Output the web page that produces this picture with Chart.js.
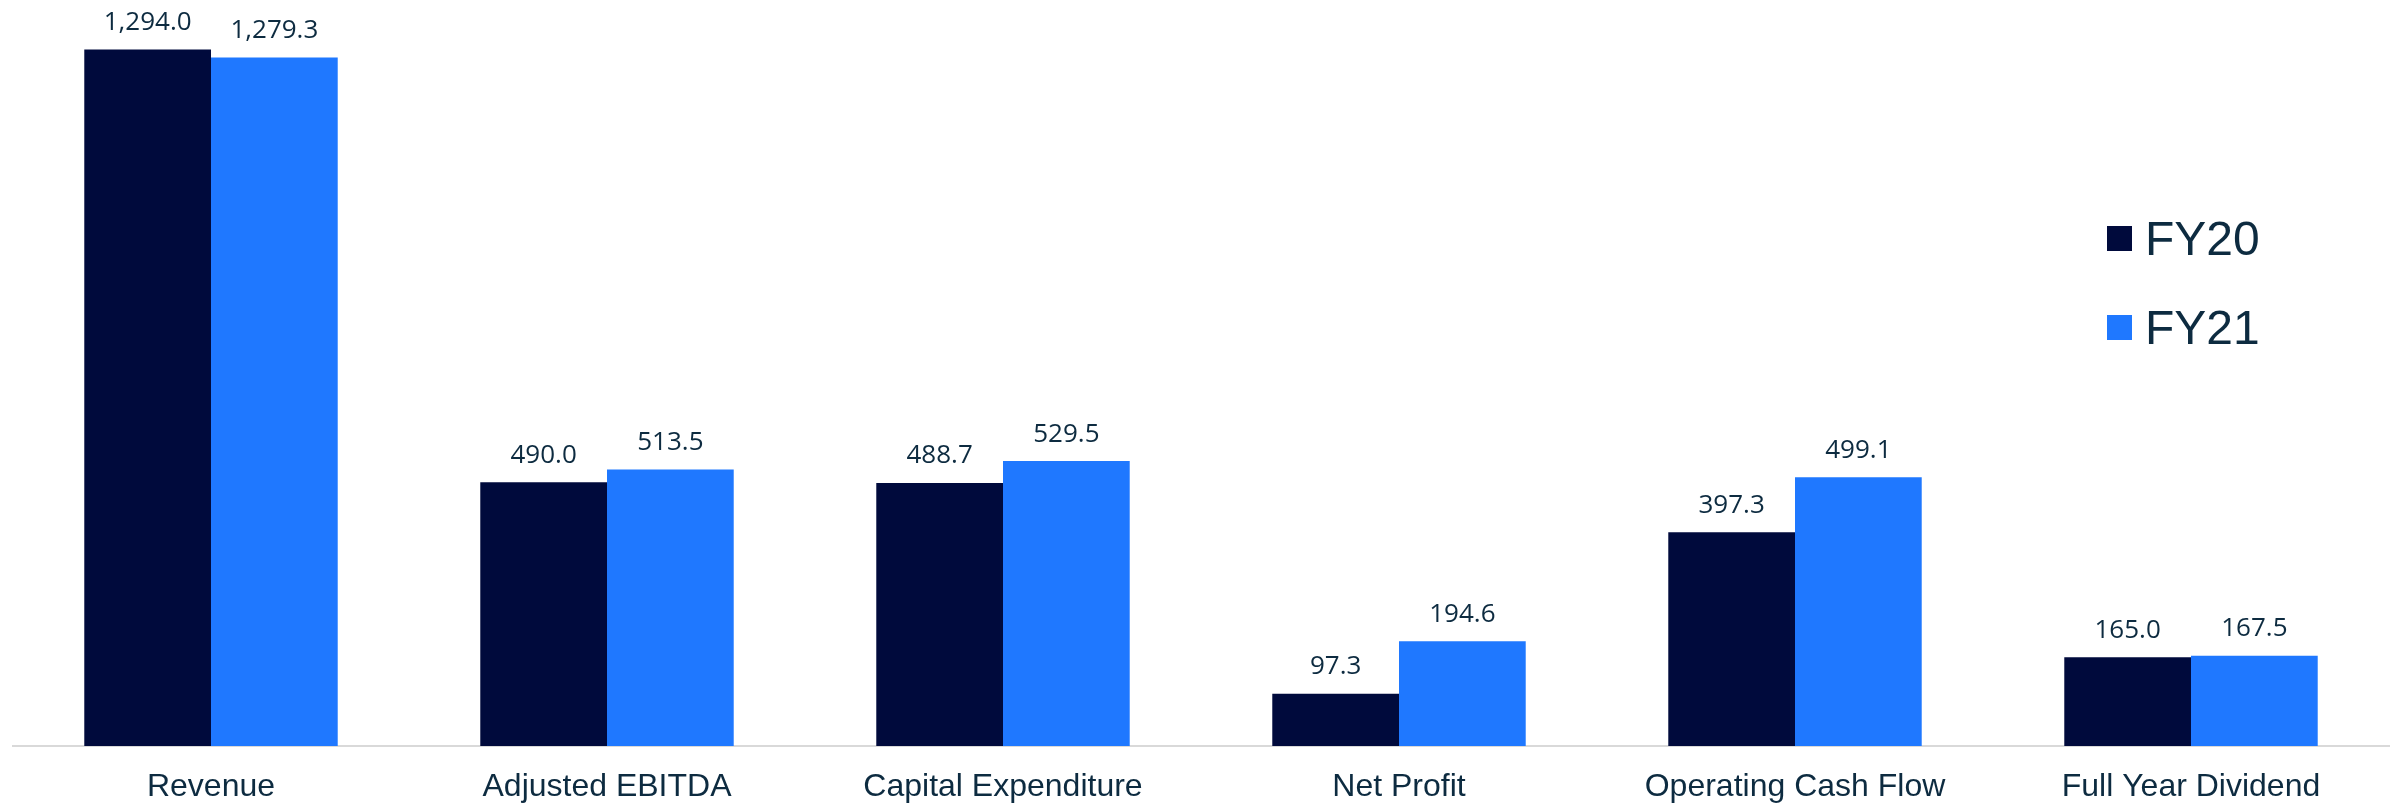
<!DOCTYPE html>
<html>
<head>
<meta charset="utf-8">
<script src="https://cdn.jsdelivr.net/npm/chart.js@4/dist/chart.umd.min.js"></script>
<style>
  html, body { margin: 0; padding: 0; background: #fff; }
  #wrap { width: 2400px; height: 803px; position: relative; }
</style>
</head>
<body>
<div id="wrap"><canvas id="kpiChart"></canvas></div>
<script>
// 데이터
const categories = ['Revenue', 'Adjusted EBITDA', 'Capital Expenditure', 'Net Profit', 'Operating Cash Flow', 'Full Year Dividend'];
const fy20 = [1294.0, 490.0, 488.7, 97.3, 397.3, 165.0];
const fy21 = [1279.3, 513.5, 529.5, 194.6, 499.1, 167.5];
const seriesNames = ['FY20', 'FY21'];
const colors = ['#000a3c', '#1f78ff'];
const textColor = '#0d2b40';

const fmt = (v) => v.toLocaleString('en-US', { minimumFractionDigits: 1, maximumFractionDigits: 1 });

// 막대 위 값 라벨
const valueLabels = {
  id: 'valueLabels',
  afterDatasetsDraw(chart) {
    const ctx = chart.ctx;
    ctx.save();
    ctx.font = '26px "Open Sans"';
    ctx.fillStyle = textColor;
    ctx.textAlign = 'center';
    ctx.textBaseline = 'alphabetic';
    chart.data.datasets.forEach((ds, i) => {
      chart.getDatasetMeta(i).data.forEach((bar, j) => {
        ctx.fillText(fmt(ds.data[j]), bar.x, bar.y - 19.5);
      });
    });
    ctx.restore();
  },
};

// 오른쪽 범례
const sideLegend = {
  id: 'sideLegend',
  afterDraw(chart) {
    const ctx = chart.ctx;
    ctx.save();
    ctx.font = '48px "Liberation Sans", Arial';
    ctx.textBaseline = 'alphabetic';
    ctx.textAlign = 'left';
    chart.data.datasets.forEach((ds, i) => {
      const y = 226 + i * 89;
      ctx.fillStyle = ds.backgroundColor;
      ctx.fillRect(2107, y, 25, 25);
      ctx.fillStyle = textColor;
      ctx.fillText(ds.label, 2145, y + 29);
    });
    ctx.restore();
  },
};

new Chart(document.getElementById('kpiChart'), {
  type: 'bar',
  data: {
    labels: categories,
    datasets: [
      { label: seriesNames[0], data: fy20, backgroundColor: colors[0] },
      { label: seriesNames[1], data: fy21, backgroundColor: colors[1] },
    ],
  },
  options: {
    responsive: true,
    maintainAspectRatio: false,
    animation: false,
    layout: { padding: { left: 13, right: 11, top: 0, bottom: 0 } },
    datasets: { bar: { barPercentage: 1, categoryPercentage: 0.64 } },
    plugins: { legend: { display: false }, tooltip: { enabled: false } },
    scales: {
      x: {
        grid: { display: false },
        border: { display: true, color: '#d9d9d9', width: 2 },
        ticks: { color: textColor, font: { family: '"Liberation Sans", Arial', size: 32 }, padding: 14 },
        afterFit: (scale) => { scale.height = 57; },
      },
      y: { display: false, min: 0, max: 1386 },
    },
  },
  plugins: [valueLabels, sideLegend],
});
</script>
</body>
</html>
